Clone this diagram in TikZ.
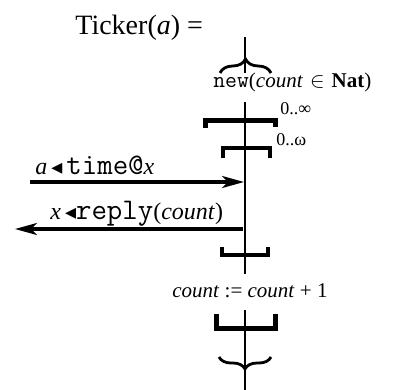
\documentclass[tikz,border=0pt]{standalone}
\usepackage{fontspec}
\setmainfont{Liberation Serif}
\newfontfamily\symfont{DejaVu Sans}
\usetikzlibrary{arrows.meta,decorations.pathreplacing}
\newcommand{\snd}{{\symfont\fontsize{11}{11}\selectfont ◂}}
\newcommand{\msgtt}[1]{{\fontsize{15}{15}\selectfont\ttfamily #1}}
\tikzset{
  >={Stealth[length=11pt,width=6pt,inset=3pt]},
  life/.style={line width=1pt},
  msg/.style={->,line width=1.6pt},
  bar/.style={line width=#1},
  bar/.default=1.6pt,
  curly/.style={decorate,decoration={brace,amplitude=#1},line width=1.4pt},
  curly/.default=7pt,
  lbl/.style={inner sep=0pt,anchor=base west,font=\fontsize{10.5}{12}\selectfont},
  msglbl/.style={inner sep=0pt,anchor=base west,font=\fontsize{12}{14}\selectfont},
  mult/.style={inner sep=0pt,anchor=base west,font=\fontsize{9}{10}\selectfont},
  title/.style={inner sep=0pt,anchor=base west,font=\fontsize{14}{16}\selectfont},
}
\begin{document}
\begin{tikzpicture}[x=0.5pt,y=-0.5pt]
  \useasboundingbox (0,0) rectangle (401,390);
  \node[title] (ttl) at (75,35) {Ticker(\textit{a}) =};
  % life line, cut by the labels
  \coordinate (top) at (245,37);
  \coordinate (cut1) at (245,73);
  \coordinate (seg2) at (245,102);
  \coordinate (cut2) at (245,274);
  \coordinate (seg3) at (245,310);
  \coordinate (bot) at (245,390);
  \draw[life] (top) -- (cut1);
  \draw[life] (seg2) -- (cut2);
  \draw[life] (seg3) -- (bot);
  % creation
  \draw[curly] (220,73) -- (271,73);
  \node[lbl] (new) at (213,88) {{\fontsize{11.5}{12}\selectfont\ttfamily new}(\textit{count}\,\,$\in$\,\,\textbf{Nat})};
  % repetition brackets
  \draw[bar=2.5pt] (205,128) -- (205,120) -- (275,120) -- (275,127);
  \node[mult] (rep1) at (280,114) {0..∞};
  \draw[bar] (223,158) -- (223,148) -- (270,148) -- (270,158);
  \node[mult] (rep2) at (276,145) {0..ω};
  % messages
  \coordinate (src) at (30,182);
  \coordinate (in) at (244,182);
  \draw[msg] (src) -- (in);
  \node[msglbl] (tm) at (35,174) {\textit{a}\,\snd\,\msgtt{time@}\textit{x}};
  \coordinate (out) at (243,229);
  \coordinate (dst) at (15,229);
  \draw[msg] (out) -- (dst);
  \node[msglbl] (rp) at (50,219) {\textit{x}\,\snd\msgtt{reply}(\textit{count})};
  \draw[bar] (222,247) -- (222,255) -- (268,255) -- (268,247);
  % update
  \node[lbl] (upd) at (172,297) {\textit{count} := \textit{count} + 1};
  \draw[bar=2.5pt] (216,314) -- (216,328) -- (275,328) -- (275,314);
  \draw[curly=6pt] (271,357) -- (219,357);
\end{tikzpicture}
\end{document}
